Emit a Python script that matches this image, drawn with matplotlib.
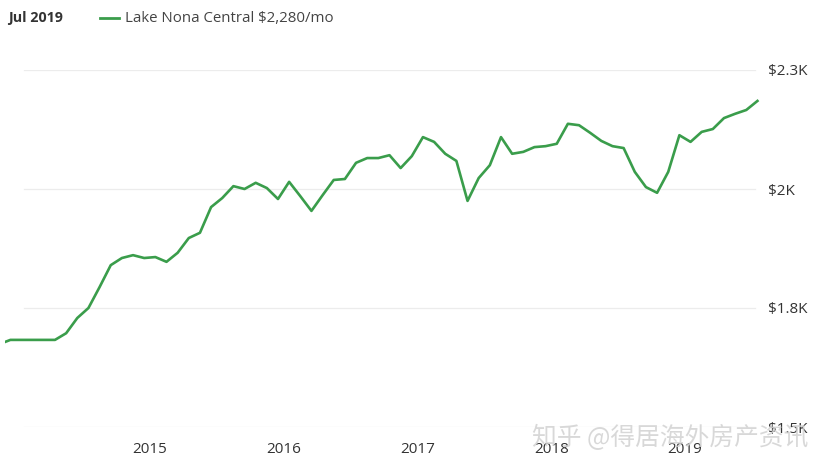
import matplotlib.pyplot as plt

# monthly rent, Nov 2013 .. Jul 2019 (index 0 = Nov 2013)
rent = [1674, 1683, 1683, 1683, 1683, 1683, 1697, 1729, 1750, 1794,
        1840, 1855, 1861, 1855, 1857, 1847, 1866, 1897, 1908, 1962,
        1981, 2006, 2000, 2013, 2002, 1979, 2015, 1985, 1954, 1987,
        2019, 2021, 2055, 2065, 2065, 2071, 2044, 2069, 2109, 2099,
        2074, 2059, 1975, 2023, 2050, 2109, 2074, 2078, 2088, 2090,
        2095, 2137, 2134, 2118, 2101, 2090, 2086, 2036, 2004, 1992,
        2036, 2113, 2099, 2120, 2126, 2149, 2158, 2166, 2185]
months = list(range(len(rent)))

years = ['2015', '2016', '2017', '2018', '2019']
year_pos = [13.5 + 12 * i for i in range(len(years))]  # Dec/Jan boundary

y_ticks = [1500, 1750, 2000, 2250]
y_labels = ['$1.5K', '$1.8K', '$2K', '$2.3K']

green = '#3a9d4b'
W, H = 825, 472

fig = plt.figure(figsize=(W / 100, H / 100), dpi=100)
ax = fig.add_axes([5 / W, 1 - 427 / H, 755 / W, 357 / H])

for v in y_ticks:
    ax.axhline(v, xmin=19 / 755, xmax=750 / 755, color='#ececec', lw=0.9, zorder=0)

ax.plot(months, rent, color=green, lw=1.9, solid_joinstyle='round', zorder=3)

ax.set_xlim(0.516, 68.23)
ax.set_ylim(1500, 2250)

ax.yaxis.tick_right()
ax.set_yticks(y_ticks)
ax.set_yticklabels(y_labels)
ax.set_xticks(year_pos)
ax.set_xticklabels(years)
ax.tick_params(axis='y', length=0, pad=6, labelsize=11, labelcolor='#333333')
ax.tick_params(axis='x', length=0, pad=11, labelsize=11, labelcolor='#333333')
for lab in ax.get_xticklabels() + ax.get_yticklabels():
    lab.set_family('Open Sans')

for s in ax.spines.values():
    s.set_visible(False)
ax.set_facecolor('none')

# header
fig.text(8 / W, 1 - 18 / H, 'Jul 2019', fontsize=10.3, fontweight='bold',
         color='#333333', family='Open Sans', va='center')
fig.add_artist(plt.Line2D([100 / W, 119 / W], [1 - 18 / H, 1 - 18 / H],
                          color=green, lw=2))
fig.text(125 / W, 1 - 18 / H, 'Lake Nona Central $2,280/mo', fontsize=10.8,
         color='#444444', family='Open Sans', va='center')

# watermark
fig.text(532 / W, 1 - 438 / H, '知乎 @得居海外房产资讯', fontsize=17.8,
         color='#d2d2d2', alpha=0.85, va='center',
         family=['Noto Sans CJK SC', 'DejaVu Sans'], zorder=5)

fig.savefig('out.png', dpi=100)
